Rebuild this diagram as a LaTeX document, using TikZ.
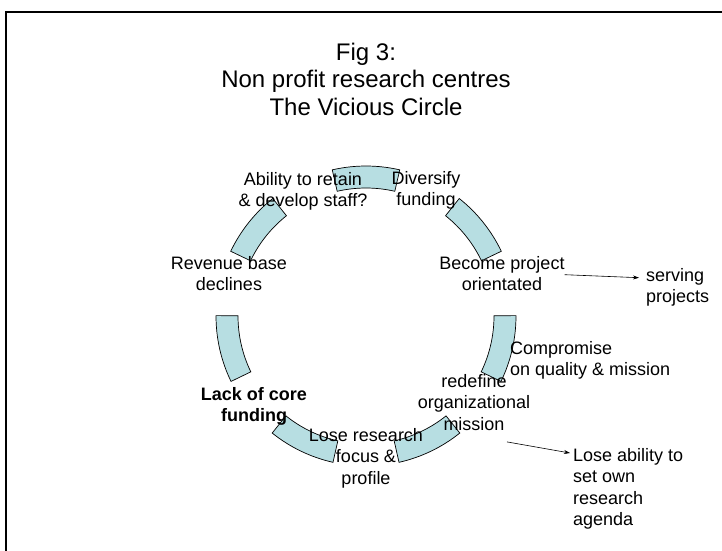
\documentclass[tikz,border=0pt]{standalone}
\usepackage{fontspec}
\setmainfont{Liberation Sans}
\usetikzlibrary{arrows.meta,calc}
\definecolor{bandfill}{RGB}{183,222,226}
\begin{document}
\begin{tikzpicture}[x=1pt,y=1pt,
  band/.style={draw=black, line width=0.7pt, fill=bandfill},
  lbl/.style={inner sep=0pt, align=center, anchor=north, font=\fontsize{18}{21.5}\selectfont, execute at begin node=\strut},
  lbll/.style={lbl, align=left, anchor=north west},
  conn/.style={-{Stealth[length=6pt,width=4pt]}, line width=0.6pt},
  frame/.style={line width=2pt}]
\useasboundingbox (0,0) rectangle (722,-550);
\draw[frame] (6,-552) -- (6,-12) -- (724,-12);
\coordinate (C) at (366,-316);
\foreach \k in {0,...,6}{
  \pgfmathsetmacro\c{90-\k*360/7}
  \pgfmathsetmacro\a{\c-13}
  \pgfmathsetmacro\b{\c+13}
  \draw[band] ($(C)+(\a:150pt)$) arc[start angle=\a, end angle=\b, radius=150pt]
     -- ($(C)+(\b:128pt)$) arc[start angle=\b, end angle=\a, radius=128pt] -- cycle;
}
\node[lbl, font=\fontsize{24}{27.5}\selectfont] (title) at (366,-42.75) {Fig 3:\\Non profit research centres\\The Vicious Circle};
\node[lbl] (retain) at (303,-172) {Ability to retain\\\& develop staff?};
\node[lbl] (diversify) at (426,-171) {Diversify\\funding};
\node[lbl] (become) at (502,-256) {Become project\\orientated};
\node[lbll] (serving) at (646,-268) {serving\\projects};
\node[lbll] (compromise) at (510,-341) {Compromise\\on quality \& mission};
\node[lbl] (redefine) at (474,-374) {redefine\\organizational\\mission};
\node[lbll] (loseab) at (573,-448) {Lose ability to\\set own\\research\\agenda};
\node[lbl, font=\fontsize{18}{21.5}\selectfont\bfseries] (lack) at (254,-387) {Lack of core\\funding};
\node[lbl] (loseres) at (366,-428) {Lose research\\focus \&\\profile};
\node[lbl] (revenue) at (229,-256) {Revenue base\\declines};
\draw[conn] ([yshift=2pt]become.east) -- ([xshift=-7pt,yshift=11pt]serving.west);
\draw[conn] ([xshift=33pt,yshift=-5pt]redefine.south) -- ([xshift=-3pt,yshift=-5pt]loseab.north west);
\end{tikzpicture}
\end{document}
